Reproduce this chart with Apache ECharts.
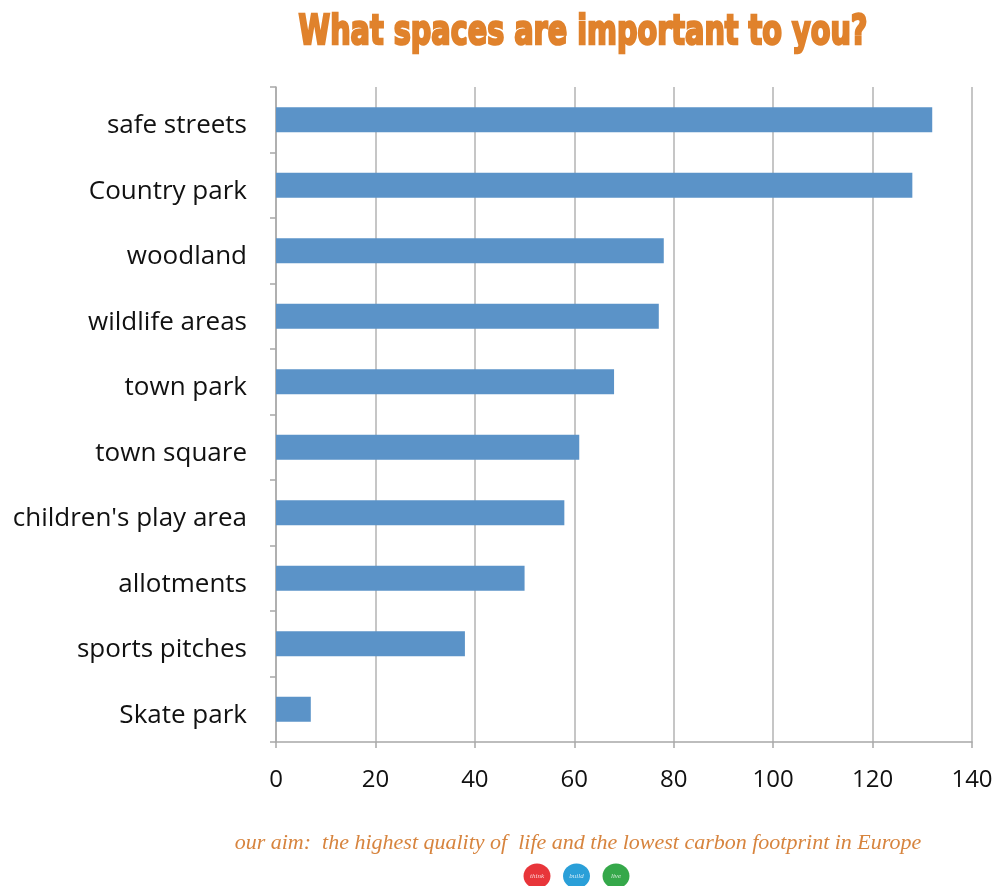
<!DOCTYPE html>
<html>
<head>
<meta charset="utf-8">
<script src="https://cdn.jsdelivr.net/npm/echarts@6/dist/echarts.min.js"></script>
<style>
  html, body { margin: 0; padding: 0; background: #ffffff; }
  #chart { width: 997px; height: 886px; }
</style>
</head>
<body>
<div id="chart"></div>
<script>
// Survey answers: which spaces matter most
const categories = [
  "safe streets", "Country park", "woodland", "wildlife areas", "town park",
  "town square", "children's play area", "allotments", "sports pitches", "Skate park"
];
const responses = [132, 128, 78, 77, 68, 61, 58, 50, 38, 7];
const axisTicks = [0, 20, 40, 60, 80, 100, 120, 140];

const titleText = "What spaces are important to you?";
const footerText = "our aim:  the highest quality of  life and the lowest carbon footprint in Europe";
const badges = [
  { word: "think", color: "#e8353a" },
  { word: "build", color: "#2a9fd8" },
  { word: "live", color: "#35a84a" }
];

const chart = echarts.init(document.getElementById("chart"), null, { renderer: "canvas" });

const badgeGraphics = badges.map((b, i) => ({
  type: "group",
  x: 537 + i * 39.5,
  y: 876,
  children: [
    { type: "ellipse", shape: { cx: 0, cy: 0, rx: 13.5, ry: 12.5 }, style: { fill: b.color } },
    {
      type: "text",
      style: {
        text: b.word, x: 0, y: 0, align: "center", verticalAlign: "middle",
        fill: "rgba(255,255,255,0.8)", font: "italic 7px 'Liberation Serif'"
      }
    }
  ]
}));

chart.setOption({
  animation: false,
  backgroundColor: "#ffffff",
  grid: { left: 276, right: 25, top: 87, bottom: 144, containLabel: false },
  xAxis: {
    type: "value",
    min: 0,
    max: 140,
    interval: 20,
    axisLine: { show: true, lineStyle: { color: "#a8a8a8", width: 1.5 } },
    axisTick: { show: true, length: 6, lineStyle: { color: "#a8a8a8", width: 1.5 } },
    splitLine: { show: true, lineStyle: { color: "#c6c6c6", width: 2 } },
    axisLabel: {
      margin: 26,
      fontFamily: "'Open Sans', sans-serif",
      fontSize: 24,
      color: "#111111",
      formatter: v => axisTicks.includes(v) ? String(v) : ""
    }
  },
  yAxis: {
    type: "category",
    data: categories,
    inverse: true,
    axisLine: { show: true, lineStyle: { color: "#a8a8a8", width: 1.5 } },
    axisTick: { show: true, length: 6, lineStyle: { color: "#a8a8a8", width: 1.5 } },
    axisLabel: {
      margin: 29,
      formatter: name => "{c|" + name + "}",
      rich: {
        c: {
          fontFamily: "'Open Sans', sans-serif",
          fontSize: 26,
          color: "#111111",
          padding: [12, 0, 0, 0]
        }
      }
    }
  },
  series: [{
    type: "bar",
    data: responses,
    barWidth: 25,
    itemStyle: { color: "#5b93c8" }
  }],
  graphic: [
    {
      type: "text",
      x: 583,
      y: 33,
      scaleX: 0.7,
      style: {
        text: titleText,
        align: "center",
        verticalAlign: "middle",
        font: "bold 41px 'DejaVu Sans', sans-serif",
        fill: "#e0822c",
        stroke: "#e0822c",
        lineWidth: 2.5
      }
    },
    {
      type: "text",
      x: 578,
      y: 843,
      style: {
        text: footerText,
        align: "center",
        verticalAlign: "middle",
        font: "italic 22px 'Liberation Serif', serif",
        fill: "#d7843e"
      }
    },
    ...badgeGraphics
  ]
});
</script>
</body>
</html>
